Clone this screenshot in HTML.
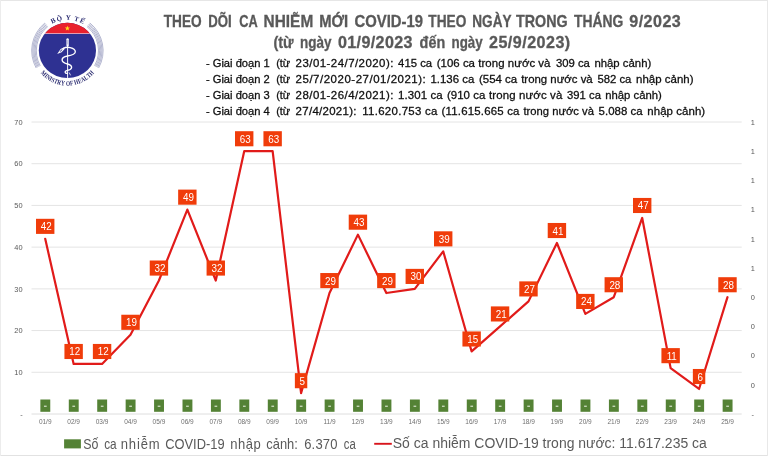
<!DOCTYPE html>
<html><head><meta charset="utf-8"><title>COVID-19 chart</title>
<style>html,body{margin:0;padding:0;background:#fff;}body{width:768px;height:456px;overflow:hidden;}svg{display:block;}text{font-family:"Liberation Sans",sans-serif;}</style>
</head><body>
<svg width="768" height="456" viewBox="0 0 768 456" style="will-change:transform">
<rect x="0" y="0" width="768" height="456" fill="#ffffff"/>
<rect x="0" y="0" width="768" height="1" fill="#e6e6e6"/>
<rect x="0" y="455" width="768" height="1" fill="#e2e2e2"/>
<rect x="0" y="0" width="1" height="456" fill="#ececec"/>
<rect x="767" y="0" width="1" height="456" fill="#e8e8e8"/>
<g id="logo">
<path d="M86.97,26.53A31.10,31.10 0 0 1 94.60,65.78" fill="none" stroke="#7f84b0" stroke-width="0.6"/>
<path d="M47.83,26.53A31.10,31.10 0 0 0 40.20,65.78" fill="none" stroke="#7f84b0" stroke-width="0.6"/>
<path d="M87.70,25.64A32.25,32.25 0 0 1 95.61,66.34" fill="none" stroke="#7f84b0" stroke-width="0.6"/>
<path d="M47.10,25.64A32.25,32.25 0 0 0 39.19,66.34" fill="none" stroke="#7f84b0" stroke-width="0.6"/>
<path d="M88.42,24.74A33.40,33.40 0 0 1 96.61,66.89" fill="none" stroke="#7f84b0" stroke-width="0.6"/>
<path d="M46.38,24.74A33.40,33.40 0 0 0 38.19,66.89" fill="none" stroke="#7f84b0" stroke-width="0.6"/>
<path d="M89.14,23.85A34.55,34.55 0 0 1 97.62,67.45" fill="none" stroke="#7f84b0" stroke-width="0.6"/>
<path d="M45.66,23.85A34.55,34.55 0 0 0 37.18,67.45" fill="none" stroke="#7f84b0" stroke-width="0.6"/>
<path d="M89.87,22.96A35.70,35.70 0 0 1 98.62,68.01" fill="none" stroke="#7f84b0" stroke-width="0.6"/>
<path d="M44.93,22.96A35.70,35.70 0 0 0 36.18,68.01" fill="none" stroke="#7f84b0" stroke-width="0.6"/>
<clipPath id="dc"><ellipse cx="67.4" cy="50.45" rx="28.6" ry="27.65"/></clipPath>
<g clip-path="url(#dc)">
<rect x="38.10000000000001" y="21.400000000000002" width="58.6" height="58.6" fill="#2e3192"/>
<rect x="38.10000000000001" y="21.400000000000002" width="58.6" height="11.70" fill="#e9212d"/>
<rect x="38.10000000000001" y="33.0" width="58.6" height="0.9" fill="#f6a9b4"/>
</g>
<polygon points="67.40,25.70 68.05,27.51 69.97,27.57 68.45,28.74 68.99,30.58 67.40,29.50 65.81,30.58 66.35,28.74 64.83,27.57 66.75,27.51" fill="#ffe11c"/>
<g fill="none" stroke="#ffffff" stroke-linecap="round" stroke-linejoin="round">
<path d="M67.6,45 L67.6,77.6" stroke-width="0.95"/>
<path d="M67.6,39.3 L67.6,45.5" stroke-width="2.3"/>
<path d="M63.6,48.3 C65.5,47.1 68,47.1 70.2,47.6 C73.6,48.4 75.5,50 75.3,52 C75,54.4 71,55.4 67.6,56 C64.5,56.6 62,58 62.1,60 C62.2,62.2 65,63.3 67.5,64 C70,64.7 71.8,65.8 71.6,67.5 C71.4,69.1 69.5,70 67.5,70.4 C66,70.7 65,71.4 65.2,72.4 C65.4,73.3 66.6,73.5 67.4,73.4" stroke-width="1.35"/>
<path d="M69.3,72.8 L70.4,75" stroke-width="0.8"/>
</g>
<path d="M64.2,47.3 L60.6,48.9 L57.2,54 L61.6,52.2 L64.6,48.9 Z" fill="#ffffff"/>
<path d="M62.6,48.9 L60.9,49.9 L59.4,52.2 L61.2,51.3 Z" fill="#3a3d96"/>
<path d="M67.6,39.8 L67.6,44.5" stroke="#7d80c0" stroke-width="0.5" fill="none"/>
<text transform="translate(53.98,22.87) rotate(-25.7) scale(1.0,1)" font-family="Liberation Serif" font-size="6.9" font-weight="bold" fill="#2a2b70" text-anchor="middle" style="font-family:'Liberation Serif',serif">B</text>
<text transform="translate(59.73,20.77) rotate(-14.4) scale(1.0,1)" font-family="Liberation Serif" font-size="6.9" font-weight="bold" fill="#2a2b70" text-anchor="middle" style="font-family:'Liberation Serif',serif">Ộ</text>
<text transform="translate(68.14,19.81) rotate(1.4) scale(1.0,1)" font-family="Liberation Serif" font-size="6.9" font-weight="bold" fill="#2a2b70" text-anchor="middle" style="font-family:'Liberation Serif',serif">Y</text>
<text transform="translate(76.04,21.03) rotate(16.2) scale(1.0,1)" font-family="Liberation Serif" font-size="6.9" font-weight="bold" fill="#2a2b70" text-anchor="middle" style="font-family:'Liberation Serif',serif">T</text>
<text transform="translate(81.31,23.11) rotate(26.7) scale(1.0,1)" font-family="Liberation Serif" font-size="6.9" font-weight="bold" fill="#2a2b70" text-anchor="middle" style="font-family:'Liberation Serif',serif">Ế</text>
<text transform="translate(42.18,74.82) rotate(46.3) scale(0.78,1)" font-family="Liberation Serif" font-size="6.8" font-weight="bold" fill="#2a2b70" text-anchor="middle" style="font-family:'Liberation Serif',serif">M</text>
<text transform="translate(44.82,77.31) rotate(40.3) scale(0.78,1)" font-family="Liberation Serif" font-size="6.8" font-weight="bold" fill="#2a2b70" text-anchor="middle" style="font-family:'Liberation Serif',serif">I</text>
<text transform="translate(47.22,79.17) rotate(35.3) scale(0.78,1)" font-family="Liberation Serif" font-size="6.8" font-weight="bold" fill="#2a2b70" text-anchor="middle" style="font-family:'Liberation Serif',serif">N</text>
<text transform="translate(49.76,80.82) rotate(30.4) scale(0.78,1)" font-family="Liberation Serif" font-size="6.8" font-weight="bold" fill="#2a2b70" text-anchor="middle" style="font-family:'Liberation Serif',serif">I</text>
<text transform="translate(52.03,82.04) rotate(26.1) scale(0.78,1)" font-family="Liberation Serif" font-size="6.8" font-weight="bold" fill="#2a2b70" text-anchor="middle" style="font-family:'Liberation Serif',serif">S</text>
<text transform="translate(55.09,83.36) rotate(20.6) scale(0.78,1)" font-family="Liberation Serif" font-size="6.8" font-weight="bold" fill="#2a2b70" text-anchor="middle" style="font-family:'Liberation Serif',serif">T</text>
<text transform="translate(58.71,84.50) rotate(14.4) scale(0.78,1)" font-family="Liberation Serif" font-size="6.8" font-weight="bold" fill="#2a2b70" text-anchor="middle" style="font-family:'Liberation Serif',serif">R</text>
<text transform="translate(62.57,85.26) rotate(8.0) scale(0.78,1)" font-family="Liberation Serif" font-size="6.8" font-weight="bold" fill="#2a2b70" text-anchor="middle" style="font-family:'Liberation Serif',serif">Y</text>
<text transform="translate(68.01,85.59) rotate(-1.0) scale(0.78,1)" font-family="Liberation Serif" font-size="6.8" font-weight="bold" fill="#2a2b70" text-anchor="middle" style="font-family:'Liberation Serif',serif">O</text>
<text transform="translate(71.78,85.32) rotate(-7.2) scale(0.78,1)" font-family="Liberation Serif" font-size="6.8" font-weight="bold" fill="#2a2b70" text-anchor="middle" style="font-family:'Liberation Serif',serif">F</text>
<text transform="translate(76.82,84.30) rotate(-15.7) scale(0.78,1)" font-family="Liberation Serif" font-size="6.8" font-weight="bold" fill="#2a2b70" text-anchor="middle" style="font-family:'Liberation Serif',serif">H</text>
<text transform="translate(80.55,83.03) rotate(-22.1) scale(0.78,1)" font-family="Liberation Serif" font-size="6.8" font-weight="bold" fill="#2a2b70" text-anchor="middle" style="font-family:'Liberation Serif',serif">E</text>
<text transform="translate(83.98,81.41) rotate(-28.4) scale(0.78,1)" font-family="Liberation Serif" font-size="6.8" font-weight="bold" fill="#2a2b70" text-anchor="middle" style="font-family:'Liberation Serif',serif">A</text>
<text transform="translate(87.21,79.44) rotate(-34.6) scale(0.78,1)" font-family="Liberation Serif" font-size="6.8" font-weight="bold" fill="#2a2b70" text-anchor="middle" style="font-family:'Liberation Serif',serif">L</text>
<text transform="translate(90.09,77.22) rotate(-40.5) scale(0.78,1)" font-family="Liberation Serif" font-size="6.8" font-weight="bold" fill="#2a2b70" text-anchor="middle" style="font-family:'Liberation Serif',serif">T</text>
<text transform="translate(92.93,74.49) rotate(-47.0) scale(0.78,1)" font-family="Liberation Serif" font-size="6.8" font-weight="bold" fill="#2a2b70" text-anchor="middle" style="font-family:'Liberation Serif',serif">H</text>
</g>
<text transform="translate(163.7,27.4) scale(0.8658,1)" font-size="15.8" font-weight="bold" fill="#595959" stroke="#595959" stroke-width="0.3" textLength="43.89" lengthAdjust="spacing">THEO</text>
<text transform="translate(208.3,27.4) scale(0.8366,1)" font-size="15.8" font-weight="bold" fill="#595959" stroke="#595959" stroke-width="0.3" textLength="28.09" lengthAdjust="spacing">DÕI</text>
<text transform="translate(239.3,27.4) scale(0.8107,1)" font-size="15.8" font-weight="bold" fill="#595959" stroke="#595959" stroke-width="0.3" textLength="22.82" lengthAdjust="spacing">CA</text>
<text transform="translate(263.6,27.4) scale(0.9742,1)" font-size="15.8" font-weight="bold" fill="#595959" stroke="#595959" stroke-width="0.3" textLength="50.91" lengthAdjust="spacing">NHIỄM</text>
<text transform="translate(319.2,27.4) scale(0.9346,1)" font-size="15.8" font-weight="bold" fill="#595959" stroke="#595959" stroke-width="0.3" textLength="31.03" lengthAdjust="spacing">MỚI</text>
<text transform="translate(354.5,27.4) scale(0.9399,1)" font-size="15.8" font-weight="bold" fill="#595959" stroke="#595959" stroke-width="0.3" textLength="72.88" lengthAdjust="spacing">COVID-19</text>
<text transform="translate(428.3,27.4) scale(0.8658,1)" font-size="15.8" font-weight="bold" fill="#595959" stroke="#595959" stroke-width="0.3" textLength="43.89" lengthAdjust="spacing">THEO</text>
<text transform="translate(472.3,27.4) scale(0.8587,1)" font-size="15.8" font-weight="bold" fill="#595959" stroke="#595959" stroke-width="0.3" textLength="45.65" lengthAdjust="spacing">NGÀY</text>
<text transform="translate(516,27.4) scale(0.9062,1)" font-size="15.8" font-weight="bold" fill="#595959" stroke="#595959" stroke-width="0.3" textLength="57.05" lengthAdjust="spacing">TRONG</text>
<text transform="translate(574,27.4) scale(0.8777,1)" font-size="15.8" font-weight="bold" fill="#595959" stroke="#595959" stroke-width="0.3" textLength="56.17" lengthAdjust="spacing">THÁNG</text>
<text transform="translate(629.3,27.4) scale(1.0200,1)" font-size="15.8" font-weight="bold" fill="#595959" stroke="#595959" stroke-width="0.3" textLength="50.49" lengthAdjust="spacing">9/2023</text>
<text transform="translate(273.4,48.3) scale(0.9196,1)" font-size="15.8" font-weight="bold" fill="#595959" stroke="#595959" stroke-width="0.3" textLength="21.97" lengthAdjust="spacing">(từ</text>
<text transform="translate(300,48.3) scale(0.8542,1)" font-size="15.8" font-weight="bold" fill="#595959" stroke="#595959" stroke-width="0.3" textLength="36.88" lengthAdjust="spacing">ngày</text>
<text transform="translate(338,48.3) scale(1.0200,1)" font-size="15.8" font-weight="bold" fill="#595959" stroke="#595959" stroke-width="0.3" textLength="73.04" lengthAdjust="spacing">01/9/2023</text>
<text transform="translate(419.6,48.3) scale(0.9113,1)" font-size="15.8" font-weight="bold" fill="#595959" stroke="#595959" stroke-width="0.3" textLength="28.09" lengthAdjust="spacing">đến</text>
<text transform="translate(451.5,48.3) scale(0.8460,1)" font-size="15.8" font-weight="bold" fill="#595959" stroke="#595959" stroke-width="0.3" textLength="36.88" lengthAdjust="spacing">ngày</text>
<text transform="translate(489,48.3) scale(1.0200,1)" font-size="15.8" font-weight="bold" fill="#595959" stroke="#595959" stroke-width="0.3" textLength="79.61" lengthAdjust="spacing">25/9/2023)</text>
<text transform="translate(205.9,67.4) scale(1.0146,1)" font-size="11.0" fill="#101010" stroke="#101010" stroke-width="0.28" textLength="62.98" lengthAdjust="spacing">- Giai đoạn 1</text>
<text transform="translate(276.2,67.4) scale(0.9941,1)" font-size="11.0" fill="#101010" stroke="#101010" stroke-width="0.28" textLength="14.08" lengthAdjust="spacing">(từ</text>
<text transform="translate(295.6,67.4) scale(1.0400,1)" font-size="11.0" fill="#101010" stroke="#101010" stroke-width="0.28" textLength="94.04" lengthAdjust="spacing">23/01-24/7/2020):</text>
<text transform="translate(398.1,67.4) scale(1.0294,1)" font-size="11.0" fill="#101010" stroke="#101010" stroke-width="0.28" textLength="33.03" lengthAdjust="spacing">415 ca</text>
<text transform="translate(436.8,67.4) scale(1.0400,1)" font-size="11.0" fill="#101010" stroke="#101010" stroke-width="0.28" textLength="36.73" lengthAdjust="spacing">(106 ca</text>
<text transform="translate(478.3,67.4) scale(1.0400,1)" font-size="11.0" fill="#101010" stroke="#101010" stroke-width="0.28" textLength="69.42" lengthAdjust="spacing">trong nước và</text>
<text transform="translate(555.9,67.4) scale(1.0294,1)" font-size="11.0" fill="#101010" stroke="#101010" stroke-width="0.28" textLength="33.03" lengthAdjust="spacing">309 ca</text>
<text transform="translate(594.4,67.4) scale(1.0337,1)" font-size="11.0" fill="#101010" stroke="#101010" stroke-width="0.28" textLength="55.04" lengthAdjust="spacing">nhập cảnh)</text>
<text transform="translate(205.9,83.3) scale(1.0146,1)" font-size="11.0" fill="#101010" stroke="#101010" stroke-width="0.28" textLength="62.98" lengthAdjust="spacing">- Giai đoạn 2</text>
<text transform="translate(276.2,83.3) scale(0.9941,1)" font-size="11.0" fill="#101010" stroke="#101010" stroke-width="0.28" textLength="14.08" lengthAdjust="spacing">(từ</text>
<text transform="translate(295.6,83.3) scale(1.0400,1)" font-size="11.0" fill="#101010" stroke="#101010" stroke-width="0.28" textLength="125.19" lengthAdjust="spacing">25/7/2020-27/01/2021):</text>
<text transform="translate(430.5,83.3) scale(1.0379,1)" font-size="11.0" fill="#101010" stroke="#101010" stroke-width="0.28" textLength="42.20" lengthAdjust="spacing">1.136 ca</text>
<text transform="translate(479,83.3) scale(1.0400,1)" font-size="11.0" fill="#101010" stroke="#101010" stroke-width="0.28" textLength="36.73" lengthAdjust="spacing">(554 ca</text>
<text transform="translate(521.2,83.3) scale(1.0363,1)" font-size="11.0" fill="#101010" stroke="#101010" stroke-width="0.28" textLength="69.00" lengthAdjust="spacing">trong nước và</text>
<text transform="translate(597.4,83.3) scale(1.0294,1)" font-size="11.0" fill="#101010" stroke="#101010" stroke-width="0.28" textLength="33.03" lengthAdjust="spacing">582 ca</text>
<text transform="translate(636.1,83.3) scale(1.0400,1)" font-size="11.0" fill="#101010" stroke="#101010" stroke-width="0.28" textLength="55.19" lengthAdjust="spacing">nhập cảnh)</text>
<text transform="translate(205.9,99.2) scale(1.0146,1)" font-size="11.0" fill="#101010" stroke="#101010" stroke-width="0.28" textLength="62.98" lengthAdjust="spacing">- Giai đoạn 3</text>
<text transform="translate(276.2,99.2) scale(0.9941,1)" font-size="11.0" fill="#101010" stroke="#101010" stroke-width="0.28" textLength="14.08" lengthAdjust="spacing">(từ</text>
<text transform="translate(295.6,99.2) scale(1.0400,1)" font-size="11.0" fill="#101010" stroke="#101010" stroke-width="0.28" textLength="94.04" lengthAdjust="spacing">28/01-26/4/2021):</text>
<text transform="translate(398.1,99.2) scale(1.0400,1)" font-size="11.0" fill="#101010" stroke="#101010" stroke-width="0.28" textLength="42.88" lengthAdjust="spacing">1.301 ca</text>
<text transform="translate(446.9,99.2) scale(1.0400,1)" font-size="11.0" fill="#101010" stroke="#101010" stroke-width="0.28" textLength="36.92" lengthAdjust="spacing">(910 ca</text>
<text transform="translate(489,99.2) scale(1.0400,1)" font-size="11.0" fill="#101010" stroke="#101010" stroke-width="0.28" textLength="70.48" lengthAdjust="spacing">trong nước và</text>
<text transform="translate(567,99.2) scale(1.0264,1)" font-size="11.0" fill="#101010" stroke="#101010" stroke-width="0.28" textLength="33.03" lengthAdjust="spacing">391 ca</text>
<text transform="translate(605.2,99.2) scale(1.0301,1)" font-size="11.0" fill="#101010" stroke="#101010" stroke-width="0.28" textLength="55.04" lengthAdjust="spacing">nhập cảnh)</text>
<text transform="translate(205.9,115.2) scale(1.0146,1)" font-size="11.0" fill="#101010" stroke="#101010" stroke-width="0.28" textLength="62.98" lengthAdjust="spacing">- Giai đoạn 4</text>
<text transform="translate(276.2,115.2) scale(0.9941,1)" font-size="11.0" fill="#101010" stroke="#101010" stroke-width="0.28" textLength="14.08" lengthAdjust="spacing">(từ</text>
<text transform="translate(295.6,115.2) scale(1.0400,1)" font-size="11.0" fill="#101010" stroke="#101010" stroke-width="0.28" textLength="58.56" lengthAdjust="spacing">27/4/2021):</text>
<text transform="translate(362.2,115.2) scale(1.0400,1)" font-size="11.0" fill="#101010" stroke="#101010" stroke-width="0.28" textLength="72.40" lengthAdjust="spacing">11.620.753 ca</text>
<text transform="translate(441.5,115.2) scale(1.0400,1)" font-size="11.0" fill="#101010" stroke="#101010" stroke-width="0.28" textLength="75.00" lengthAdjust="spacing">(11.615.665 ca</text>
<text transform="translate(523.5,115.2) scale(1.0203,1)" font-size="11.0" fill="#101010" stroke="#101010" stroke-width="0.28" textLength="69.00" lengthAdjust="spacing">trong nước và</text>
<text transform="translate(598.6,115.2) scale(1.0400,1)" font-size="11.0" fill="#101010" stroke="#101010" stroke-width="0.28" textLength="42.31" lengthAdjust="spacing">5.088 ca</text>
<text transform="translate(647.3,115.2) scale(1.0400,1)" font-size="11.0" fill="#101010" stroke="#101010" stroke-width="0.28" textLength="55.67" lengthAdjust="spacing">nhập cảnh)</text>
<line x1="31.5" y1="122.00" x2="741.7" y2="122.00" stroke="#e4e4e4" stroke-width="1"/>
<line x1="31.5" y1="163.71" x2="741.7" y2="163.71" stroke="#e4e4e4" stroke-width="1"/>
<line x1="31.5" y1="205.43" x2="741.7" y2="205.43" stroke="#e4e4e4" stroke-width="1"/>
<line x1="31.5" y1="247.14" x2="741.7" y2="247.14" stroke="#e4e4e4" stroke-width="1"/>
<line x1="31.5" y1="288.86" x2="741.7" y2="288.86" stroke="#e4e4e4" stroke-width="1"/>
<line x1="31.5" y1="330.57" x2="741.7" y2="330.57" stroke="#e4e4e4" stroke-width="1"/>
<line x1="31.5" y1="372.29" x2="741.7" y2="372.29" stroke="#e4e4e4" stroke-width="1"/>
<line x1="31.5" y1="414.00" x2="741.7" y2="414.00" stroke="#dedede" stroke-width="1"/>
<text x="22.6" y="124.70" font-size="7.4" fill="#595959" text-anchor="end">70</text>
<text x="22.6" y="166.41" font-size="7.4" fill="#595959" text-anchor="end">60</text>
<text x="22.6" y="208.13" font-size="7.4" fill="#595959" text-anchor="end">50</text>
<text x="22.6" y="249.84" font-size="7.4" fill="#595959" text-anchor="end">40</text>
<text x="22.6" y="291.56" font-size="7.4" fill="#595959" text-anchor="end">30</text>
<text x="22.6" y="333.27" font-size="7.4" fill="#595959" text-anchor="end">20</text>
<text x="22.6" y="374.99" font-size="7.4" fill="#595959" text-anchor="end">10</text>
<text x="22.6" y="416.70" font-size="7.4" fill="#595959" text-anchor="end">-</text>
<text x="752.8" y="124.70" font-size="7.4" fill="#595959" text-anchor="middle">1</text>
<text x="752.8" y="153.90" font-size="7.4" fill="#595959" text-anchor="middle">1</text>
<text x="752.8" y="183.10" font-size="7.4" fill="#595959" text-anchor="middle">1</text>
<text x="752.8" y="212.30" font-size="7.4" fill="#595959" text-anchor="middle">1</text>
<text x="752.8" y="241.50" font-size="7.4" fill="#595959" text-anchor="middle">1</text>
<text x="752.8" y="270.70" font-size="7.4" fill="#595959" text-anchor="middle">1</text>
<text x="752.8" y="299.90" font-size="7.4" fill="#595959" text-anchor="middle">0</text>
<text x="752.8" y="329.10" font-size="7.4" fill="#595959" text-anchor="middle">0</text>
<text x="752.8" y="358.30" font-size="7.4" fill="#595959" text-anchor="middle">0</text>
<text x="752.8" y="387.50" font-size="7.4" fill="#595959" text-anchor="middle">0</text>
<text x="752.8" y="416.70" font-size="7.4" fill="#595959" text-anchor="middle">-</text>
<text x="45.21" y="424.4" font-size="6.5" fill="#707070" text-anchor="middle">01/9</text>
<text x="73.64" y="424.4" font-size="6.5" fill="#707070" text-anchor="middle">02/9</text>
<text x="102.07" y="424.4" font-size="6.5" fill="#707070" text-anchor="middle">03/9</text>
<text x="130.50" y="424.4" font-size="6.5" fill="#707070" text-anchor="middle">04/9</text>
<text x="158.93" y="424.4" font-size="6.5" fill="#707070" text-anchor="middle">05/9</text>
<text x="187.35" y="424.4" font-size="6.5" fill="#707070" text-anchor="middle">06/9</text>
<text x="215.78" y="424.4" font-size="6.5" fill="#707070" text-anchor="middle">07/9</text>
<text x="244.21" y="424.4" font-size="6.5" fill="#707070" text-anchor="middle">08/9</text>
<text x="272.64" y="424.4" font-size="6.5" fill="#707070" text-anchor="middle">09/9</text>
<text x="301.07" y="424.4" font-size="6.5" fill="#707070" text-anchor="middle">10/9</text>
<text x="329.49" y="424.4" font-size="6.5" fill="#707070" text-anchor="middle">11/9</text>
<text x="357.92" y="424.4" font-size="6.5" fill="#707070" text-anchor="middle">12/9</text>
<text x="386.35" y="424.4" font-size="6.5" fill="#707070" text-anchor="middle">13/9</text>
<text x="414.78" y="424.4" font-size="6.5" fill="#707070" text-anchor="middle">14/9</text>
<text x="443.21" y="424.4" font-size="6.5" fill="#707070" text-anchor="middle">15/9</text>
<text x="471.63" y="424.4" font-size="6.5" fill="#707070" text-anchor="middle">16/9</text>
<text x="500.06" y="424.4" font-size="6.5" fill="#707070" text-anchor="middle">17/9</text>
<text x="528.49" y="424.4" font-size="6.5" fill="#707070" text-anchor="middle">18/9</text>
<text x="556.92" y="424.4" font-size="6.5" fill="#707070" text-anchor="middle">19/9</text>
<text x="585.35" y="424.4" font-size="6.5" fill="#707070" text-anchor="middle">20/9</text>
<text x="613.77" y="424.4" font-size="6.5" fill="#707070" text-anchor="middle">21/9</text>
<text x="642.20" y="424.4" font-size="6.5" fill="#707070" text-anchor="middle">22/9</text>
<text x="670.63" y="424.4" font-size="6.5" fill="#707070" text-anchor="middle">23/9</text>
<text x="699.06" y="424.4" font-size="6.5" fill="#707070" text-anchor="middle">24/9</text>
<text x="727.49" y="424.4" font-size="6.5" fill="#707070" text-anchor="middle">25/9</text>
<rect x="40.36" y="399.5" width="9.9" height="12.3" fill="#548235"/>
<rect x="43.96" y="405.7" width="2.7" height="1.0" fill="#f1f6ec"/>
<rect x="68.79" y="399.5" width="9.9" height="12.3" fill="#548235"/>
<rect x="72.39" y="405.7" width="2.7" height="1.0" fill="#f1f6ec"/>
<rect x="97.22" y="399.5" width="9.9" height="12.3" fill="#548235"/>
<rect x="100.82" y="405.7" width="2.7" height="1.0" fill="#f1f6ec"/>
<rect x="125.65" y="399.5" width="9.9" height="12.3" fill="#548235"/>
<rect x="129.25" y="405.7" width="2.7" height="1.0" fill="#f1f6ec"/>
<rect x="154.08" y="399.5" width="9.9" height="12.3" fill="#548235"/>
<rect x="157.68" y="405.7" width="2.7" height="1.0" fill="#f1f6ec"/>
<rect x="182.50" y="399.5" width="9.9" height="12.3" fill="#548235"/>
<rect x="186.10" y="405.7" width="2.7" height="1.0" fill="#f1f6ec"/>
<rect x="210.93" y="399.5" width="9.9" height="12.3" fill="#548235"/>
<rect x="214.53" y="405.7" width="2.7" height="1.0" fill="#f1f6ec"/>
<rect x="239.36" y="399.5" width="9.9" height="12.3" fill="#548235"/>
<rect x="242.96" y="405.7" width="2.7" height="1.0" fill="#f1f6ec"/>
<rect x="267.79" y="399.5" width="9.9" height="12.3" fill="#548235"/>
<rect x="271.39" y="405.7" width="2.7" height="1.0" fill="#f1f6ec"/>
<rect x="296.22" y="399.5" width="9.9" height="12.3" fill="#548235"/>
<rect x="299.82" y="405.7" width="2.7" height="1.0" fill="#f1f6ec"/>
<rect x="324.64" y="399.5" width="9.9" height="12.3" fill="#548235"/>
<rect x="328.24" y="405.7" width="2.7" height="1.0" fill="#f1f6ec"/>
<rect x="353.07" y="399.5" width="9.9" height="12.3" fill="#548235"/>
<rect x="356.67" y="405.7" width="2.7" height="1.0" fill="#f1f6ec"/>
<rect x="381.50" y="399.5" width="9.9" height="12.3" fill="#548235"/>
<rect x="385.10" y="405.7" width="2.7" height="1.0" fill="#f1f6ec"/>
<rect x="409.93" y="399.5" width="9.9" height="12.3" fill="#548235"/>
<rect x="413.53" y="405.7" width="2.7" height="1.0" fill="#f1f6ec"/>
<rect x="438.36" y="399.5" width="9.9" height="12.3" fill="#548235"/>
<rect x="441.96" y="405.7" width="2.7" height="1.0" fill="#f1f6ec"/>
<rect x="466.78" y="399.5" width="9.9" height="12.3" fill="#548235"/>
<rect x="470.38" y="405.7" width="2.7" height="1.0" fill="#f1f6ec"/>
<rect x="495.21" y="399.5" width="9.9" height="12.3" fill="#548235"/>
<rect x="498.81" y="405.7" width="2.7" height="1.0" fill="#f1f6ec"/>
<rect x="523.64" y="399.5" width="9.9" height="12.3" fill="#548235"/>
<rect x="527.24" y="405.7" width="2.7" height="1.0" fill="#f1f6ec"/>
<rect x="552.07" y="399.5" width="9.9" height="12.3" fill="#548235"/>
<rect x="555.67" y="405.7" width="2.7" height="1.0" fill="#f1f6ec"/>
<rect x="580.50" y="399.5" width="9.9" height="12.3" fill="#548235"/>
<rect x="584.10" y="405.7" width="2.7" height="1.0" fill="#f1f6ec"/>
<rect x="608.92" y="399.5" width="9.9" height="12.3" fill="#548235"/>
<rect x="612.52" y="405.7" width="2.7" height="1.0" fill="#f1f6ec"/>
<rect x="637.35" y="399.5" width="9.9" height="12.3" fill="#548235"/>
<rect x="640.95" y="405.7" width="2.7" height="1.0" fill="#f1f6ec"/>
<rect x="665.78" y="399.5" width="9.9" height="12.3" fill="#548235"/>
<rect x="669.38" y="405.7" width="2.7" height="1.0" fill="#f1f6ec"/>
<rect x="694.21" y="399.5" width="9.9" height="12.3" fill="#548235"/>
<rect x="697.81" y="405.7" width="2.7" height="1.0" fill="#f1f6ec"/>
<rect x="722.64" y="399.5" width="9.9" height="12.3" fill="#548235"/>
<rect x="726.24" y="405.7" width="2.7" height="1.0" fill="#f1f6ec"/>
<polyline points="45.21,238.80 73.64,363.94 102.07,363.94 130.50,334.74 158.93,280.51 187.35,209.60 215.78,280.51 244.21,151.20 272.64,151.20 301.07,393.14 329.49,293.03 357.92,234.63 386.35,293.03 414.78,288.86 443.21,251.31 471.63,351.43 500.06,326.40 528.49,301.37 556.92,242.97 585.35,313.89 613.77,297.20 642.20,217.94 670.63,368.11 699.06,388.97 727.49,297.20" fill="none" stroke="#e11b1a" stroke-width="2.2" stroke-linejoin="round" stroke-linecap="round"/>
<rect x="36.01" y="218.80" width="18.4" height="15.1" fill="#f03c0a"/>
<text transform="translate(46.31,230.35) scale(0.93,1)" font-size="10.6" fill="#ffffff" text-anchor="middle">42</text>
<rect x="64.44" y="343.94" width="18.4" height="15.1" fill="#f03c0a"/>
<text transform="translate(74.74,355.49) scale(0.93,1)" font-size="10.6" fill="#ffffff" text-anchor="middle">12</text>
<rect x="92.87" y="343.94" width="18.4" height="15.1" fill="#f03c0a"/>
<text transform="translate(103.17,355.49) scale(0.93,1)" font-size="10.6" fill="#ffffff" text-anchor="middle">12</text>
<rect x="121.30" y="314.74" width="18.4" height="15.1" fill="#f03c0a"/>
<text transform="translate(131.60,326.29) scale(0.93,1)" font-size="10.6" fill="#ffffff" text-anchor="middle">19</text>
<rect x="149.73" y="260.51" width="18.4" height="15.1" fill="#f03c0a"/>
<text transform="translate(160.03,272.06) scale(0.93,1)" font-size="10.6" fill="#ffffff" text-anchor="middle">32</text>
<rect x="178.15" y="189.60" width="18.4" height="15.1" fill="#f03c0a"/>
<text transform="translate(188.45,201.15) scale(0.93,1)" font-size="10.6" fill="#ffffff" text-anchor="middle">49</text>
<rect x="206.58" y="260.51" width="18.4" height="15.1" fill="#f03c0a"/>
<text transform="translate(216.88,272.06) scale(0.93,1)" font-size="10.6" fill="#ffffff" text-anchor="middle">32</text>
<rect x="235.01" y="131.20" width="18.4" height="15.1" fill="#f03c0a"/>
<text transform="translate(245.31,142.75) scale(0.93,1)" font-size="10.6" fill="#ffffff" text-anchor="middle">63</text>
<rect x="263.44" y="131.20" width="18.4" height="15.1" fill="#f03c0a"/>
<text transform="translate(273.74,142.75) scale(0.93,1)" font-size="10.6" fill="#ffffff" text-anchor="middle">63</text>
<rect x="294.87" y="373.14" width="12.4" height="15.1" fill="#f03c0a"/>
<text transform="translate(302.17,384.69) scale(0.93,1)" font-size="10.6" fill="#ffffff" text-anchor="middle">5</text>
<rect x="320.29" y="273.03" width="18.4" height="15.1" fill="#f03c0a"/>
<text transform="translate(330.59,284.58) scale(0.93,1)" font-size="10.6" fill="#ffffff" text-anchor="middle">29</text>
<rect x="348.72" y="214.63" width="18.4" height="15.1" fill="#f03c0a"/>
<text transform="translate(359.02,226.18) scale(0.93,1)" font-size="10.6" fill="#ffffff" text-anchor="middle">43</text>
<rect x="377.15" y="273.03" width="18.4" height="15.1" fill="#f03c0a"/>
<text transform="translate(387.45,284.58) scale(0.93,1)" font-size="10.6" fill="#ffffff" text-anchor="middle">29</text>
<rect x="405.58" y="268.86" width="18.4" height="15.1" fill="#f03c0a"/>
<text transform="translate(415.88,280.41) scale(0.93,1)" font-size="10.6" fill="#ffffff" text-anchor="middle">30</text>
<rect x="434.01" y="231.31" width="18.4" height="15.1" fill="#f03c0a"/>
<text transform="translate(444.31,242.86) scale(0.93,1)" font-size="10.6" fill="#ffffff" text-anchor="middle">39</text>
<rect x="462.43" y="331.43" width="18.4" height="15.1" fill="#f03c0a"/>
<text transform="translate(472.73,342.98) scale(0.93,1)" font-size="10.6" fill="#ffffff" text-anchor="middle">15</text>
<rect x="490.86" y="306.40" width="18.4" height="15.1" fill="#f03c0a"/>
<text transform="translate(501.16,317.95) scale(0.93,1)" font-size="10.6" fill="#ffffff" text-anchor="middle">21</text>
<rect x="519.29" y="281.37" width="18.4" height="15.1" fill="#f03c0a"/>
<text transform="translate(529.59,292.92) scale(0.93,1)" font-size="10.6" fill="#ffffff" text-anchor="middle">27</text>
<rect x="547.72" y="222.97" width="18.4" height="15.1" fill="#f03c0a"/>
<text transform="translate(558.02,234.52) scale(0.93,1)" font-size="10.6" fill="#ffffff" text-anchor="middle">41</text>
<rect x="576.15" y="293.89" width="18.4" height="15.1" fill="#f03c0a"/>
<text transform="translate(586.45,305.44) scale(0.93,1)" font-size="10.6" fill="#ffffff" text-anchor="middle">24</text>
<rect x="604.57" y="277.20" width="18.4" height="15.1" fill="#f03c0a"/>
<text transform="translate(614.87,288.75) scale(0.93,1)" font-size="10.6" fill="#ffffff" text-anchor="middle">28</text>
<rect x="633.00" y="197.94" width="18.4" height="15.1" fill="#f03c0a"/>
<text transform="translate(643.30,209.49) scale(0.93,1)" font-size="10.6" fill="#ffffff" text-anchor="middle">47</text>
<rect x="661.43" y="348.11" width="18.4" height="15.1" fill="#f03c0a"/>
<text transform="translate(671.73,359.66) scale(0.93,1)" font-size="10.6" fill="#ffffff" text-anchor="middle">11</text>
<rect x="692.86" y="368.97" width="12.4" height="15.1" fill="#f03c0a"/>
<text transform="translate(700.16,380.52) scale(0.93,1)" font-size="10.6" fill="#ffffff" text-anchor="middle">6</text>
<rect x="718.29" y="277.20" width="18.4" height="15.1" fill="#f03c0a"/>
<text transform="translate(728.59,288.75) scale(0.93,1)" font-size="10.6" fill="#ffffff" text-anchor="middle">28</text>
<rect x="64.1" y="439.3" width="16.8" height="9.1" fill="#548235"/>
<text transform="translate(83.3,448.5) scale(0.8876,1)" font-size="14.0" fill="#595959" textLength="17.12" lengthAdjust="spacing">Số</text>
<text transform="translate(104.2,448.5) scale(0.8454,1)" font-size="14.0" fill="#595959" textLength="14.79" lengthAdjust="spacing">ca</text>
<text transform="translate(120.8,448.5) scale(0.9300,1)" font-size="14.0" fill="#595959" textLength="41.72" lengthAdjust="spacing">nhiễm</text>
<text transform="translate(165.2,448.5) scale(0.9199,1)" font-size="14.0" fill="#595959" textLength="64.57" lengthAdjust="spacing">COVID-19</text>
<text transform="translate(230.2,448.5) scale(0.9300,1)" font-size="14.0" fill="#595959" textLength="32.90" lengthAdjust="spacing">nhập</text>
<text transform="translate(266.3,448.5) scale(0.9227,1)" font-size="14.0" fill="#595959" textLength="34.25" lengthAdjust="spacing">cảnh:</text>
<text transform="translate(304.2,448.5) scale(0.9300,1)" font-size="14.0" fill="#595959" textLength="35.81" lengthAdjust="spacing">6.370</text>
<text transform="translate(343.8,448.5) scale(0.8116,1)" font-size="14.0" fill="#595959" textLength="14.79" lengthAdjust="spacing">ca</text>
<line x1="374.2" y1="443.8" x2="391.8" y2="443.8" stroke="#d8151c" stroke-width="1.9"/>
<text x="392.8" y="448.3" font-size="14" fill="#5a5a5a" textLength="314" lengthAdjust="spacingAndGlyphs">Số ca nhiễm COVID-19 trong nước: 11.617.235 ca</text>
</svg></body></html>
